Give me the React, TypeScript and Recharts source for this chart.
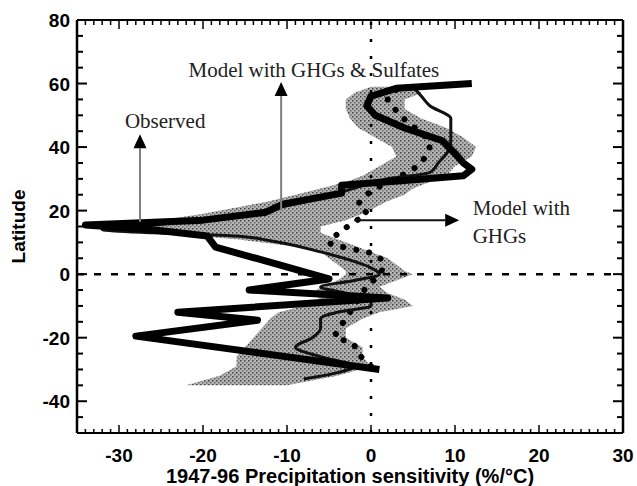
import {
  ComposedChart,
  Line,
  Area,
  XAxis,
  YAxis,
  ReferenceLine,
  ReferenceDot,
} from 'recharts';

// Observed (thick black line)
const obsLat = [60, 58.5, 56, 53, 50, 46, 42, 38, 35, 33, 31, 29.5, 28, 25.5, 22, 19.5, 17, 15.5, 14, 12, 8.5, 4.5, -1.5, -5, -7.5, -12, -14.5, -19.5, -30];
const obsVal = [12, 3, 0, -0.5, 0.5, 4, 8.5, 10, 11, 12, 11, 4, -3.5, -3.5, -10.5, -12.5, -20, -34, -26, -19.5, -18.5, -13, -5, -14.5, 2, -23, -13.5, -28, 1];

// Model with GHGs & Sulfates: ensemble mean and spread
const modelLat = [59, 56, 53, 49, 45, 42, 38, 35, 32, 30, 27, 24, 21, 18, 15.5, 14, 13, 12, 10.5, 7, 4, 2, 0, -2, -4, -6, -8, -10, -12, -14, -17, -20, -23, -26, -29, -31, -33];
const modelVal = [5, 6, 7, 9.5, 9.5, 9.5, 9, 8, 7, 2, -2, -6, -11, -17, -26, -32, -26, -16, -12, -6, -2, 0, 1, -2, -6, -3, 0, 0, -4, -6, -6, -7, -9, -6, -2, -4, -8];

const bandLat = [59, 57, 55, 52, 49, 46, 43, 40, 37, 34, 31, 29, 27, 25, 23, 21, 19, 17, 15, 13, 11, 9, 7, 5, 3, 1, 0, -2, -4, -6, -8, -10, -12, -14, -17, -20, -23, -26, -29, -32, -35];
const bandLow = [0, -2, -3, -3, -2.5, -1.5, 0.5, 2.5, 3, 1, -1, -3, -6, -9, -12, -16, -20, -25, -32, -26, -16, -10, -6, -5, -4, -3, -3, -4, -6, -7, -6, -8, -11, -12, -13, -14, -15, -16, -16, -18, -22];
const bandHigh = [5, 6, 4, 4, 6, 9, 11, 12.5, 12, 10, 9, 7, 5, 4, 2, 0.5, -1, -3, -6, -6, -4, -2, 0, 2, 3, 4, 5, 3, 1, 2, 4, 5, 1, -1, -3, -3, -1, -1, 0, -4, -10];

// Model with GHGs only (dotted)
const ghgLat = [58, 55, 51.5, 47.5, 44.5, 41, 37, 33, 29, 25, 21.5, 19, 16.5, 13.5, 10, 7.5, 6.5, 3, 0, -4, -8, -12, -16, -20, -21.5, -25, -29];
const ghgVal = [3, 2, 3, 4.5, 6, 7, 6.5, 5, 2, -0.5, -1.5, -0.5, -2, -3.5, -5, -1.5, 0.2, 1.5, 1, -0.5, -1.5, -2.5, -3.5, -4.3, -2.3, -1.5, 0];

const X_DOMAIN = [-35, 30];
const Y_DOMAIN = [-50, 80];
const xTicks = Array.from({ length: 66 }, (_, i) => -35 + i);
const yTicks = Array.from({ length: 27 }, (_, i) => -50 + i * 5);

// annotation arrows, in data units
const arrows = [
  { from: { x: -27.5, y: 16.5 }, to: { x: -27.5, y: 44 }, shaft: '#808080' },
  { from: { x: -10.7, y: 20 }, to: { x: -10.7, y: 60.5 }, shaft: '#808080' },
  { from: { x: -2, y: 17 }, to: { x: 10.5, y: 17 }, shaft: '#111' },
];
const notes = [
  { x: -24.5, y: 48.5, text: 'Observed', pos: 'center' },
  { x: -6.8, y: 64.5, text: 'Model with GHGs & Sulfates', pos: 'center' },
  { x: 12.1, y: 21, text: 'Model with', pos: 'right' },
  { x: 12.1, y: 12, text: 'GHGs', pos: 'right' },
];

const obsData = obsLat.map((lat, i) => ({ lat, v: obsVal[i] }));
const modelData = modelLat.map((lat, i) => ({ lat, v: modelVal[i] }));
const bandData = bandLat.map((lat, i) => ({ lat, range: [bandLow[i], bandHigh[i]] }));
const ghgData = ghgLat.map((lat, i) => ({ lat, v: ghgVal[i] }));

const SANS = '"Liberation Sans", Arial, sans-serif';
const SERIF = '"Liberation Serif", "Times New Roman", serif';

const BottomTick = ({ x, y, payload }: any) => {
  const v = payload.value;
  const major = v % 10 === 0;
  return (
    <g>
      <path d={`M${x},${y}V${y - (major ? 8 : 4)}`} stroke="#000" strokeWidth={1.5} />
      {major && (
        <text x={x} y={y + 29} textAnchor="middle" fontSize={19} fontWeight="bold" fontFamily={SANS} fill="#000">
          {v}
        </text>
      )}
    </g>
  );
};

const TopTick = ({ x, y, payload }: any) => {
  const major = payload.value % 10 === 0;
  return <path d={`M${x},${y}V${y + (major ? 9 : 5)}`} stroke="#000" strokeWidth={1.5} />;
};

const LeftTick = ({ x, y, payload }: any) => {
  const v = payload.value;
  const major = v % 20 === 0;
  return (
    <g>
      <path d={`M${x},${y}H${x + (major ? 10 : 6)}`} stroke="#000" strokeWidth={2} />
      {major && (
        <text x={x - 7} y={y + 7} textAnchor="end" fontSize={19} fontWeight="bold" fontFamily={SANS} fill="#000">
          {v}
        </text>
      )}
    </g>
  );
};

const RightTick = ({ x, y, payload }: any) => {
  const major = payload.value % 20 === 0;
  return <path d={`M${x},${y}H${x - (major ? 10 : 6)}`} stroke="#000" strokeWidth={2} />;
};

const makeArrow = (shaft: string) => (props: any) => {
  const { x1, y1, x2, y2 } = props;
  const a = Math.atan2(y2 - y1, x2 - x1);
  const L = 14;
  const W = 6.5;
  const bx = x2 - L * Math.cos(a);
  const by = y2 - L * Math.sin(a);
  const pts = [
    `${x2},${y2}`,
    `${bx - W * Math.sin(a)},${by + W * Math.cos(a)}`,
    `${bx + W * Math.sin(a)},${by - W * Math.cos(a)}`,
  ].join(' ');
  return (
    <g>
      <path d={`M${x1},${y1}L${bx},${by}`} stroke={shaft} strokeWidth={2} />
      <polygon points={pts} fill="#000" />
    </g>
  );
};

export default function App() {
  return (
    <div style={{ position: 'absolute', left: 0, top: 0, background: '#fff' }}>
      <ComposedChart
        width={637}
        height={486}
        layout="vertical"
        margin={{ top: 19, right: 13, bottom: 0, left: 0 }}
      >
        <defs>
          <pattern id="stipple" width="4" height="4" patternUnits="userSpaceOnUse">
            <rect width="4" height="4" fill="#b4b4b4" />
            <rect x="0" y="0" width="1.5" height="1.5" fill="#404040" />
            <rect x="2" y="2" width="1.5" height="1.5" fill="#6a6a6a" />
          </pattern>
        </defs>
        <XAxis
          type="number"
          domain={X_DOMAIN}
          allowDataOverflow
          ticks={xTicks}
          interval={0}
          height={53}
          tickSize={0}
          tickMargin={0}
          tick={<BottomTick />}
          axisLine={{ stroke: '#000', strokeWidth: 2 }}
          label={{
            value: '1947-96 Precipitation sensitivity  (%/°C)',
            position: 'insideBottom',
            offset: 3,
            fontSize: 20,
            fontWeight: 'bold',
            fontFamily: SANS,
            fill: '#000',
          }}
        />
        <XAxis
          xAxisId="top"
          orientation="top"
          type="number"
          domain={X_DOMAIN}
          allowDataOverflow
          ticks={xTicks}
          interval={0}
          height={1}
          tickSize={0}
          tickMargin={0}
          tick={<TopTick />}
          axisLine={{ stroke: '#000', strokeWidth: 2 }}
        />
        <YAxis
          type="number"
          dataKey="lat"
          reversed
          domain={Y_DOMAIN}
          allowDataOverflow
          ticks={yTicks}
          interval={0}
          width={77}
          tickSize={0}
          tickMargin={0}
          tick={<LeftTick />}
          axisLine={{ stroke: '#000', strokeWidth: 2.5 }}
          label={{
            value: 'Latitude',
            angle: -90,
            position: 'insideLeft',
            offset: 18,
            fontSize: 19,
            fontWeight: 'bold',
            fontFamily: SANS,
            fill: '#000',
            style: { textAnchor: 'middle' },
          }}
        />
        <YAxis
          yAxisId="right"
          orientation="right"
          type="number"
          dataKey="lat"
          reversed
          domain={Y_DOMAIN}
          allowDataOverflow
          ticks={yTicks}
          interval={0}
          width={1}
          tickSize={0}
          tickMargin={0}
          tick={<RightTick />}
          axisLine={{ stroke: '#000', strokeWidth: 2.5 }}
        />

        <ReferenceLine y={0} stroke="#000" strokeWidth={2.5} strokeDasharray="7 10" />
        <ReferenceLine x={0} stroke="#000" strokeWidth={2.5} strokeDasharray="3 14" />

        <Area
          data={bandData}
          dataKey="range"
          type="linear"
          stroke="none"
          fill="url(#stipple)"
          fillOpacity={1}
          isAnimationActive={false}
        />
        <Line
          data={ghgData}
          dataKey="v"
          type="monotone"
          stroke="#000"
          strokeWidth={6}
          strokeLinecap="round"
          strokeDasharray="0.1 13"
          dot={false}
          isAnimationActive={false}
        />
        <Line
          data={modelData}
          dataKey="v"
          type="monotone"
          stroke="#111"
          strokeWidth={3}
          dot={false}
          isAnimationActive={false}
        />
        <Line
          data={obsData}
          dataKey="v"
          type="linear"
          stroke="#000"
          strokeWidth={7}
          strokeLinejoin="round"
          dot={false}
          isAnimationActive={false}
        />

        {arrows.map((a, i) => (
          <ReferenceLine key={'a' + i} segment={[a.from, a.to]} shape={makeArrow(a.shaft)} />
        ))}
        {notes.map((n) => (
          <ReferenceDot
            key={n.text}
            x={n.x}
            y={n.y}
            r={0}
            fill="none"
            stroke="none"
            label={{
              value: n.text,
              position: n.pos,
              offset: 0,
              fontSize: 21,
              fontFamily: SERIF,
              fill: '#222',
            }}
          />
        ))}
      </ComposedChart>
    </div>
  );
}
